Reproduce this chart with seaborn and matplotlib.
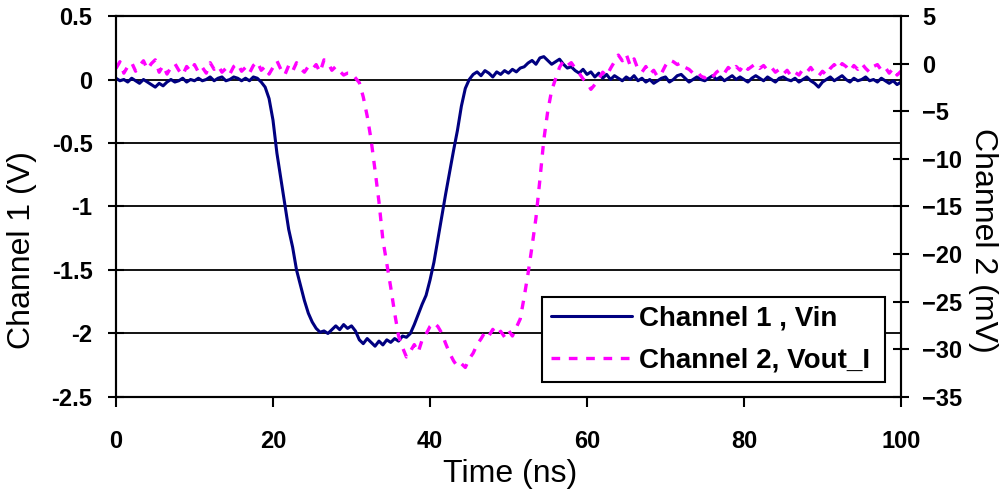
import numpy as np
import pandas as pd
import matplotlib
matplotlib.use("Agg")
import matplotlib.pyplot as plt
import seaborn as sns

# Sample times (ns), 0.5 ns spacing
time_ns = np.arange(201) * 0.5

# Channel 1 (V) - Vin
ch1_vin = [
    0.01, -0.01, 0.00, -0.02, 0.01, -0.01, -0.03, 0.00, -0.02, -0.04,
    -0.06, -0.03, -0.05, -0.02, 0.00, -0.02, -0.01, 0.01, -0.02, 0.00,
    -0.01, 0.01, -0.01, 0.00, 0.02, -0.01, 0.01, 0.02, -0.01, 0.00,
    0.02, 0.01, -0.01, 0.01, -0.01, 0.02, 0.01, -0.02, -0.06, -0.15,
    -0.32, -0.58, -0.78, -0.98, -1.18, -1.32, -1.50, -1.62, -1.74, -1.84,
    -1.91, -1.96, -1.99, -1.98, -2.00, -1.97, -1.94, -1.97, -1.93, -1.96,
    -1.94, -1.98, -2.05, -2.08, -2.04, -2.07, -2.10, -2.06, -2.09, -2.05,
    -2.07, -2.04, -2.06, -2.02, -2.03, -2.00, -1.93, -1.85, -1.77, -1.70,
    -1.58, -1.44, -1.26, -1.08, -0.90, -0.73, -0.56, -0.40, -0.21, -0.07,
    0.00, 0.04, 0.06, 0.03, 0.07, 0.05, 0.02, 0.06, 0.04, 0.07,
    0.05, 0.08, 0.06, 0.09, 0.10, 0.13, 0.15, 0.12, 0.17, 0.18,
    0.15, 0.12, 0.14, 0.16, 0.12, 0.09, 0.10, 0.07, 0.05, 0.08,
    0.04, 0.06, 0.02, 0.05, 0.01, 0.04, 0.00, 0.03, 0.01, -0.01,
    0.02, 0.00, 0.03, -0.01, 0.01, -0.02, 0.00, -0.03, -0.01, 0.01,
    0.02, -0.02, 0.00, 0.03, 0.04, 0.01, -0.02, 0.00, 0.02, 0.00,
    -0.01, 0.01, 0.03, 0.00, 0.02, -0.01, 0.01, 0.03, 0.00, 0.02,
    0.00, -0.02, 0.01, 0.03, 0.01, -0.01, 0.02, 0.00, -0.02, 0.01,
    0.02, 0.00, -0.01, 0.01, -0.02, 0.00, 0.02, -0.01, -0.03, -0.06,
    -0.02, 0.00, 0.02, -0.01, 0.01, 0.03, 0.00, -0.02, 0.01, -0.01,
    0.00, 0.02, -0.01, 0.00, -0.02, 0.01, -0.01, -0.03, -0.01, -0.04,
    -0.02,
]

# Channel 2 (mV) - Vout_I
ch2_vout = [
    -0.5, 0.2, -1.0, -0.3, 0.1, -0.8, -0.2, 0.3, -0.6, 0.0,
    0.4, -0.9, -0.2, -1.1, -0.4, 0.0, -0.7, -1.2, -0.3, -0.8,
    -0.1, -0.9, -0.4, -1.0, 0.1, -0.6, -0.2, -0.9, -0.5, -1.1,
    -0.3, 0.0, -0.8, -0.4, -1.0, -0.2, 0.2, -0.7, -0.3, -1.1,
    -0.4, 0.3, -0.6, -1.2, -0.2, -0.8, 0.1, -0.5, -0.9, -0.3,
    -0.6, -0.1, -0.9, 0.4, 0.1, -0.7, -0.3, -0.8, -1.2, -1.0,
    -1.0, -1.5, -2.0, -3.5, -5.5, -8.0, -11.2, -14.5, -18.5, -21.0,
    -23.5, -26.2, -28.6, -29.8, -30.8, -30.2, -29.5, -30.3, -29.0, -28.4,
    -27.6, -27.2, -27.6, -28.3, -29.4, -30.4, -31.2, -31.8, -31.5, -31.9,
    -31.0, -30.4, -29.5, -28.9, -28.2, -28.6, -27.9, -28.5, -28.1, -28.7,
    -28.0, -28.6, -27.7, -26.8, -24.5, -22.0, -19.2, -16.2, -12.2, -8.0,
    -5.0, -2.8, -1.6, -0.4, 0.3, -0.2, 0.1, -0.5, -1.0, -1.6,
    -2.0, -2.7, -2.2, -1.6, -0.9, -1.3, -0.5, 0.2, 0.9, 0.3,
    1.0, -0.2, 0.5, -0.6, -0.9, -0.3, -1.1, -0.7, -1.4, -1.0,
    -0.2, 0.4, 0.2, -0.1, 0.1, -0.4, -0.6, -1.0, -0.8, -1.3,
    -1.5, -1.1, -1.4, -0.9, -0.6, -1.0, -0.4, -0.8, -0.3, -0.7,
    -0.1, -0.6, -0.3, 0.0, -0.5, -0.2, -0.7, -0.4, -0.9, -0.6,
    -1.1, -0.7, -1.3, -0.9, -1.2, -0.6, -0.9, -0.4, -1.0, -1.3,
    -0.8, -1.2, -0.5, -0.1, -0.6, 0.0, -0.3, -0.8, -0.2, -0.6,
    0.0, -0.5, -0.9, -0.3, -0.1, -0.7, -0.4, -1.0, -0.5, -1.2,
    -0.8,
]

x_ticks = [0, 20, 40, 60, 80, 100]
y1_ticks = [-2.5, -2, -1.5, -1, -0.5, 0, 0.5]
y1_ticklabels = ["-2.5", "-2", "-1.5", "-1", "-0.5", "0", "0.5"]
y2_ticks = [-35, -30, -25, -20, -15, -10, -5, 0, 5]
legend_labels = ["Channel 1 , Vin", "Channel 2, Vout_I"]

df = pd.DataFrame({"t": time_ns, "ch1": ch1_vin, "ch2": ch2_vout})

sns.set_theme(style="white")
plt.rcParams["font.family"] = ["Liberation Sans", "DejaVu Sans"]

fig = plt.figure(figsize=(10.06, 4.94), dpi=100)
ax = fig.add_axes([0.1153, 0.1964, 0.7803, 0.7712])
ax2 = ax.twinx()

BLUE = "#000080"
PINK = "#FF00FF"

sns.lineplot(data=df, x="t", y="ch1", ax=ax, color=BLUE, linewidth=2.2,
             label=legend_labels[0], legend=False)
sns.lineplot(data=df, x="t", y="ch2", ax=ax2, color=PINK, linewidth=2.4,
             label=legend_labels[1], legend=False)
ax2.lines[0].set_linestyle((0, (2.6, 2.6)))

ax.set_xlim(0, 100)
ax.set_ylim(-2.5, 0.5)
ax2.set_ylim(-35, 5)
ax.set_xticks(x_ticks)
ax.set_yticks(y1_ticks)
ax.set_yticklabels(y1_ticklabels)
ax2.set_yticks(y2_ticks)

for a in (ax, ax2):
    for s in a.spines.values():
        s.set_color("black")
        s.set_linewidth(1.5)
ax.grid(True, axis="y", color="black", linewidth=1.3)
ax.grid(False, axis="x")
ax2.grid(False)

ax.tick_params(axis="x", direction="out", length=7, width=1.5, color="black",
               pad=17, labelsize=17, bottom=True, labelcolor="black")
ax.tick_params(axis="y", direction="inout", length=12, width=1.5, color="black",
               pad=11, labelsize=17, left=True, labelcolor="black")
ax2.tick_params(axis="y", direction="inout", length=12, width=1.5, color="black",
                pad=9, labelsize=17, right=True, labelcolor="black")
for lbl in ax.get_xticklabels() + ax.get_yticklabels() + ax2.get_yticklabels():
    lbl.set_fontweight("bold")

ax.set_xlabel("Time (ns)", fontsize=23, color="black")
ax.set_ylabel("Channel 1 (V)", fontsize=23, color="black")
ax2.set_ylabel("Channel 2 (mV)", fontsize=23, rotation=270, color="black")
ax.xaxis.set_label_coords(0.502, -0.163)
ax.yaxis.set_label_coords(-0.100, 0.386)
ax2.yaxis.set_label_coords(1.124, 0.41)

h1, l1 = ax.get_legend_handles_labels()
h2, l2 = ax2.get_legend_handles_labels()
leg = ax2.legend(h1 + h2, l1 + l2, loc="lower left",
                 bbox_to_anchor=(0.543, 0.039, 0.437, 0.239), mode="expand",
                 frameon=True, fancybox=False, framealpha=1, edgecolor="black",
                 prop={"size": 20, "weight": "bold"}, handlelength=2.9,
                 handletextpad=0.25, borderaxespad=0, borderpad=0.32,
                 labelspacing=0.55)
leg.get_frame().set_linewidth(1.5)
for t in leg.get_texts():
    t.set_color("black")

fig.savefig("out.png", dpi=100)
